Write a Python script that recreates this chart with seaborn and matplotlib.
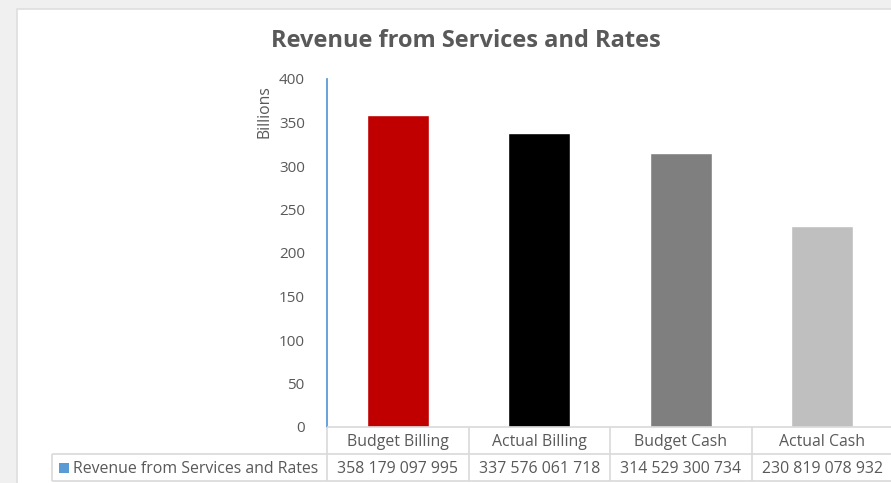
import matplotlib
matplotlib.use("Agg")
import matplotlib.pyplot as plt
import seaborn as sns
import pandas as pd
from matplotlib.patches import Rectangle

# ---- data -------------------------------------------------------------
categories = ["Budget Billing", "Actual Billing", "Budget Cash", "Actual Cash"]
revenue_rand = [358179097995, 337576061718, 314529300734, 230819078932]
series_name = "Revenue from Services and Rates"
bar_colors = ["#C00000", "#000000", "#7F7F7F", "#BFBFBF"]
y_ticks = [0, 50, 100, 150, 200, 250, 300, 350, 400]

revenue_bn = [v / 1e9 for v in revenue_rand]
df = pd.DataFrame({"category": categories, "billions": revenue_bn})

# ---- styling ----------------------------------------------------------
sns.set_theme(style="white")
plt.rcParams["font.family"] = ["Open Sans", "DejaVu Sans"]
TXT = "#595959"
GRID = "#D9D9D9"
FS = 11.4

W, H = 891, 483
fig = plt.figure(figsize=(W / 100, H / 100), dpi=100, facecolor="#F0F0F0")


def fx(px):
    return px / W


def fy(py):
    return 1 - py / H


# white chart area (background layer)
bg = fig.add_axes([0, 0, 1, 1], zorder=-5)
bg.set_xlim(0, W)
bg.set_ylim(H, 0)
bg.axis("off")
bg.add_patch(Rectangle((16.5, 8.5), W, H, facecolor="white", edgecolor="#DEDEDE",
                       linewidth=1.2))

# plot area
left, right, top, bottom = 327, 893, 79, 427
ax = fig.add_axes([fx(left), fy(bottom), fx(right - left), fy(top) - fy(bottom)])
ax.set_facecolor("none")

sns.barplot(data=df, x="category", y="billions", hue="category",
            palette=bar_colors, width=0.44, saturation=1, legend=False,
            ax=ax)

ax.set_xlim(-0.5, len(categories) - 0.5)
ax.set_ylim(0, 400)
ax.set_yticks(y_ticks)
ax.set_yticklabels([str(t) for t in y_ticks], color=TXT, fontsize=11)
ax.tick_params(axis="y", length=0, pad=16)
ax.set_xticks([])
ax.set_xlabel("")
ax.set_ylabel("")
for side in ["top", "right", "bottom"]:
    ax.spines[side].set_visible(False)
ax.spines["left"].set_color("#5B9BD5")
ax.spines["left"].set_linewidth(1.3)

# axis title
fig.text(fx(265), fy(112), "Billions", rotation=90, ha="center", va="center",
         color=TXT, fontsize=11.3)

# chart title
fig.text(fx(466), fy(41), "Revenue from Services and Rates", ha="center",
         va="center", color=TXT, fontsize=17, fontweight="bold")

# ---- data table below the axis ----------------------------------------
tbl = fig.add_axes([0, 0, 1, 1], zorder=5)
tbl.set_xlim(0, W)
tbl.set_ylim(H, 0)
tbl.axis("off")
tbl.patch.set_alpha(0)

row1_top, row1_bot, row2_bot = 427, 454, 481
cell_w = (right - left) / len(categories)
edges = [left + i * cell_w for i in range(len(categories) + 1)]
lkw = dict(color=GRID, linewidth=1.2, solid_capstyle="butt")

tbl.plot([left, W + 5], [row1_top, row1_top], **lkw)
tbl.plot([52, W + 5], [row1_bot, row1_bot], **lkw)
tbl.plot([52, W + 5], [row2_bot, row2_bot], **lkw)
for e in edges:
    tbl.plot([e, e], [row1_top, row2_bot], **lkw)
tbl.plot([52, 52], [row1_bot, row2_bot], **lkw)

for i, (cat, val) in enumerate(zip(categories, revenue_rand)):
    cx = (edges[i] + edges[i + 1]) / 2
    tbl.text(cx, (row1_top + row1_bot) / 2 + 1.5, cat, ha="center", va="center",
             color=TXT, fontsize=FS)
    tbl.text(cx, (row1_bot + row2_bot) / 2 + 1.5, f"{val:,}".replace(",", " "),
             ha="center", va="center", color=TXT, fontsize=FS)

tbl.add_patch(Rectangle((59, 462.5), 10, 10, facecolor="#5B9BD5", edgecolor="none"))
tbl.text(73, (row1_bot + row2_bot) / 2 + 1.5, series_name, ha="left", va="center",
         color=TXT, fontsize=FS)

fig.savefig("out.png", dpi=100, facecolor=fig.get_facecolor())
